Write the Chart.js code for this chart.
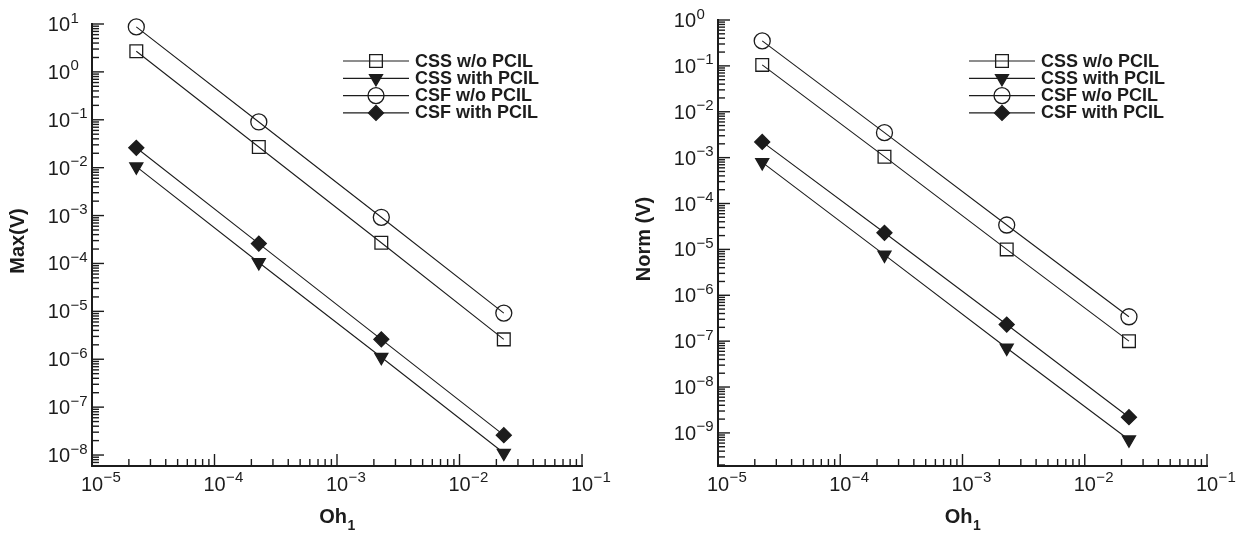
<!DOCTYPE html>
<html>
<head>
<meta charset="utf-8">
<script src="https://cdn.jsdelivr.net/npm/chart.js@4.4.1/dist/chart.umd.min.js"></script>
<style>
  html, body { margin: 0; padding: 0; background: #fff; }
  .wrap { position: absolute; top: 0; width: 622px; height: 534px; }
  #leftBox { left: 0; }
  #rightBox { left: 622px; }
</style>
</head>
<body>
<div class="wrap" id="leftBox"><canvas id="maxChart" width="622" height="534"></canvas></div>
<div class="wrap" id="rightBox"><canvas id="normChart" width="622" height="534"></canvas></div>
<script>
// Oh_1 values shared by both panels
const ohValues = [2.3e-5, 2.3e-4, 2.3e-3, 2.3e-2];
const seriesNames = ['CSS w/o PCIL', 'CSS with PCIL', 'CSF w/o PCIL', 'CSF with PCIL'];

// left panel: Max(V)
const maxCssNo   = [2.7, 2.7e-2, 2.7e-4, 2.6e-6];
const maxCssWith = [1.05e-2, 1.05e-4, 1.1e-6, 1.1e-8];
const maxCsfNo   = [8.7, 9.0e-2, 9.2e-4, 9.2e-6];
const maxCsfWith = [2.6e-2, 2.6e-4, 2.6e-6, 2.6e-8];

// right panel: Norm (V)
const normCssNo   = [1.05e-1, 1.05e-3, 1.0e-5, 1.0e-7];
const normCssWith = [7.9e-4, 7.6e-6, 7.1e-8, 7.1e-10];
const normCsfNo   = [3.5e-1, 3.5e-3, 3.4e-5, 3.4e-7];
const normCsfWith = [2.2e-3, 2.3e-5, 2.3e-7, 2.2e-9];

// decade tick labels (exponents of 10)
const xExponents = [-5, -4, -3, -2, -1];
const maxExponents = [1, 0, -1, -2, -3, -4, -5, -6, -7, -8];
const normExponents = [0, -1, -2, -3, -4, -5, -6, -7, -8, -9];

const ink = '#1c1c1c';
const fontFam = '"Liberation Sans", Arial, Helvetica, sans-serif';

// marker look per series: open square, filled down-triangle, open circle, filled diamond
const markers = [
  { style: 'rect', radius: 9, rotation: 0, fill: 'rgba(0,0,0,0)' },
  { style: 'triangle', radius: 7.5, rotation: 180, fill: ink },
  { style: 'circle', radius: 8, rotation: 0, fill: 'rgba(0,0,0,0)' },
  { style: 'rectRot', radius: 7.5, rotation: 0, fill: ink }
];

function expText(e) {
  return e < 0 ? '\u2212' + Math.abs(e) : String(e);
}

function line(ctx, x1, y1, x2, y2) {
  ctx.beginPath();
  ctx.moveTo(x1, y1);
  ctx.lineTo(x2, y2);
  ctx.stroke();
}

const axisDecor = {
  id: 'axisDecor',
  afterDraw(chart, args, opts) {
    const { ctx, chartArea: a } = chart;
    const xs = chart.scales.x, ys = chart.scales.y;
    ctx.save();
    ctx.strokeStyle = ink;
    ctx.fillStyle = ink;
    ctx.lineWidth = 1.4;

    // inward ticks on x axis
    for (let d = -6; d <= 0; d++) {
      for (let m = 1; m <= 9; m++) {
        const v = m * Math.pow(10, d);
        if (v < xs.min * 0.999 || v > xs.max * 1.001) continue;
        const px = xs.getPixelForValue(v);
        line(ctx, px, a.bottom, px, a.bottom - (m === 1 ? 12 : 7));
      }
    }
    // inward ticks on y axis
    for (let d = -12; d <= 2; d++) {
      for (let m = 1; m <= 9; m++) {
        const v = m * Math.pow(10, d);
        if (v < ys.min * 0.999 || v > ys.max * 1.001) continue;
        const py = ys.getPixelForValue(v);
        line(ctx, a.left, py, a.left + (m === 1 ? 12 : 7), py);
      }
    }

    // x tick labels
    xExponents.forEach(e => {
      const px = xs.getPixelForValue(Math.pow(10, e));
      ctx.font = '20px ' + fontFam;
      const w = ctx.measureText('10').width;
      ctx.textAlign = 'left';
      ctx.textBaseline = 'alphabetic';
      ctx.fillText('10', px - w / 2, a.bottom + 24.5);
      ctx.font = '15px ' + fontFam;
      ctx.fillText(expText(e), px + w / 2 + 0.5, a.bottom + 16);
    });

    // y tick labels
    opts.yExponents.forEach(e => {
      const py = ys.getPixelForValue(Math.pow(10, e));
      ctx.font = '20px ' + fontFam;
      ctx.textAlign = 'right';
      ctx.fillText('10', a.left - 22, py + 7);
      ctx.font = '15px ' + fontFam;
      ctx.textAlign = 'left';
      ctx.fillText(expText(e), a.left - 21.5, py - 1.5);
    });

    // axis titles
    ctx.save();
    ctx.translate(a.left - 74, (a.top + a.bottom) / 2 - 4);
    ctx.rotate(-Math.PI / 2);
    ctx.font = 'bold 20px ' + fontFam;
    ctx.textAlign = 'center';
    ctx.textBaseline = 'middle';
    ctx.fillText(opts.yTitle, 0, 0);
    ctx.restore();

    ctx.font = 'bold 20px ' + fontFam;
    const wOh = ctx.measureText('Oh').width;
    ctx.font = 'bold 14px ' + fontFam;
    const wSub = ctx.measureText('1').width;
    const cx = (a.left + a.right) / 2 - (wOh + wSub) / 2;
    ctx.textAlign = 'left';
    ctx.textBaseline = 'alphabetic';
    ctx.font = 'bold 20px ' + fontFam;
    ctx.fillText('Oh', cx, 523);
    ctx.font = 'bold 14px ' + fontFam;
    ctx.fillText('1', cx + wOh + 0.5, 530);

    // legend: line segment with marker, then label
    chart.data.datasets.forEach((ds, i) => {
      const ry = 61 + i * 17.3;
      ctx.lineWidth = 1.2;
      line(ctx, a.left + 251, ry, a.left + 317, ry);
      ctx.lineWidth = 1.3;
      ctx.fillStyle = ds.pointBackgroundColor;
      ctx.strokeStyle = ink;
      Chart.helpers.drawPoint(ctx, {
        pointStyle: ds.pointStyle,
        radius: ds.pointRadius,
        rotation: ds.pointRotation,
        borderWidth: 1.3
      }, a.left + 284, ry);
      ctx.fillStyle = ink;
      ctx.font = 'bold 18px ' + fontFam;
      ctx.fillText(ds.label, a.left + 323, ry + 5.5);
    });

    ctx.restore();
  }
};

function makeChart(id, yTitle, yMin, yMax, yExponents, series, pad) {
  return new Chart(document.getElementById(id), {
    type: 'line',
    data: {
      datasets: series.map((vals, i) => ({
        label: seriesNames[i],
        data: ohValues.map((x, k) => ({ x: x, y: vals[k] })),
        borderColor: ink,
        borderWidth: 1.1,
        pointStyle: markers[i].style,
        pointRadius: markers[i].radius,
        pointHoverRadius: markers[i].radius,
        pointRotation: markers[i].rotation,
        pointBackgroundColor: markers[i].fill,
        pointBorderColor: ink,
        pointBorderWidth: 1.3,
        fill: false,
        tension: 0,
        clip: false
      }))
    },
    options: {
      responsive: false,
      animation: false,
      layout: { padding: pad },
      scales: {
        x: {
          type: 'logarithmic',
          min: 1e-5,
          max: 1e-1,
          ticks: { display: false },
          grid: { display: false, drawTicks: false },
          border: { display: true, color: ink, width: 2 },
          afterFit: s => { s.height = 0; }
        },
        y: {
          type: 'logarithmic',
          min: yMin,
          max: yMax,
          ticks: { display: false },
          grid: { display: false, drawTicks: false },
          border: { display: true, color: ink, width: 2 },
          afterFit: s => { s.width = 0; }
        }
      },
      plugins: {
        legend: { display: false },
        tooltip: { enabled: false },
        axisDecor: { yTitle: yTitle, yExponents: yExponents }
      }
    },
    plugins: [axisDecor]
  });
}

makeChart('maxChart', 'Max(V)', 5.9e-9, 10, maxExponents,
  [maxCssNo, maxCssWith, maxCsfNo, maxCsfWith],
  { left: 92, top: 24, right: 40, bottom: 68 });

makeChart('normChart', 'Norm (V)', 1.9e-10, 1, normExponents,
  [normCssNo, normCssWith, normCsfNo, normCsfWith],
  { left: 96, top: 20, right: 37, bottom: 68 });
</script>
</body>
</html>
